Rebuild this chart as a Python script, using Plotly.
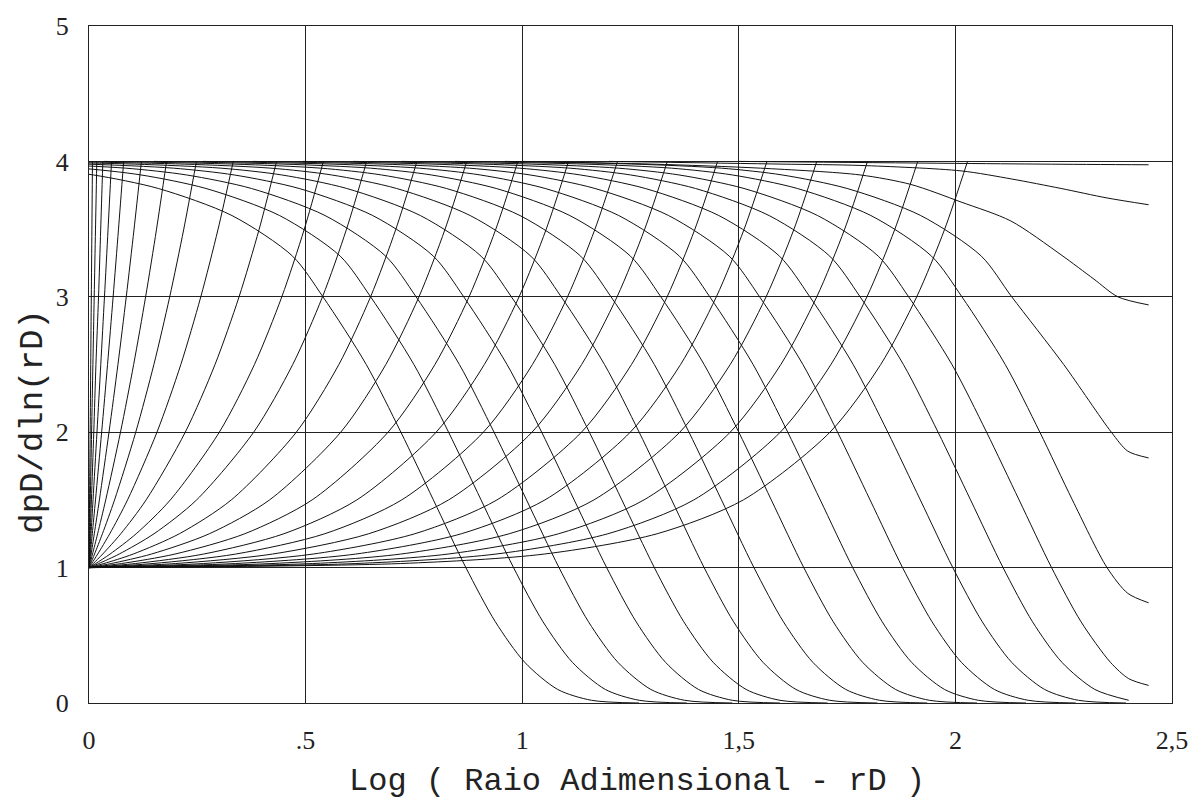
import plotly.graph_objects as go

# ---------------- data ----------------
X_TICKS = [0, 0.5, 1, 1.5, 2, 2.5]
X_TICK_TEXT = ["0", ".5", "1", "1,5", "2", "2,5"]
Y_TICKS = [0, 1, 2, 3, 4, 5]
Y_TICK_TEXT = ["0", "1", "2", "3", "4", "5"]

X_TITLE = "Log ( Raio Adimensional - rD )"
Y_TITLE = "dpD/dln(rD)"

# rising family: x position where each curve reaches each level
RISE_LEVELS = [1.0, 1.03, 1.1, 1.25, 1.5, 2.0, 2.5, 3.0, 3.5, 4.0]
RISE_X = [
    [0, 0.0001, 0.0003, 0.0007, 0.0013, 0.0027, 0.004, 0.0053, 0.0067, 0.008],
    [0, 0.0002, 0.0006, 0.0015, 0.003, 0.006, 0.009, 0.012, 0.015, 0.018],
    [0, 0.0003, 0.0011, 0.0028, 0.0056, 0.011, 0.016, 0.022, 0.027, 0.032],
    [0, 0.0006, 0.0019, 0.0047, 0.0093, 0.0184, 0.0272, 0.0357, 0.044, 0.052],
    [0, 0.0009, 0.0031, 0.0076, 0.015, 0.0292, 0.0428, 0.0557, 0.0681, 0.08],
    [0, 0.0015, 0.005, 0.0122, 0.024, 0.0462, 0.0668, 0.086, 0.104, 0.121],
    [0, 0.0025, 0.0081, 0.0199, 0.0386, 0.0727, 0.1031, 0.1307, 0.1559, 0.179],
    [0, 0.0039, 0.0128, 0.031, 0.059, 0.1079, 0.1498, 0.1863, 0.2188, 0.248],
    [0, 0.0062, 0.0201, 0.0479, 0.089, 0.1569, 0.212, 0.2581, 0.298, 0.333],
    [0, 0.0099, 0.0316, 0.0734, 0.1319, 0.2222, 0.2909, 0.3464, 0.3929, 0.433],
    [0, 0.0154, 0.0486, 0.1089, 0.1878, 0.3008, 0.3819, 0.4451, 0.497, 0.541],
    [0, 0.0227, 0.0696, 0.1501, 0.2484, 0.3801, 0.4703, 0.539, 0.5945, 0.641],
    [0, 0.0345, 0.102, 0.2086, 0.3285, 0.4785, 0.5768, 0.65, 0.7084, 0.757],
    [0, 0.0512, 0.144, 0.2778, 0.4169, 0.5811, 0.6852, 0.7617, 0.822, 0.872],
    [0, 0.075, 0.1985, 0.3596, 0.5151, 0.6903, 0.7986, 0.8773, 0.9391, 0.99],
    [0, 0.1071, 0.2644, 0.4499, 0.6183, 0.8013, 0.9126, 0.9928, 1.0555, 1.107],
    [0, 0.1478, 0.3386, 0.5442, 0.7219, 0.9104, 1.0236, 1.1047, 1.168, 1.22],
    [0, 0.2001, 0.4236, 0.6456, 0.8302, 1.0226, 1.1372, 1.219, 1.2828, 1.335],
    [0, 0.2644, 0.5174, 0.7521, 0.9418, 1.1368, 1.2523, 1.3346, 1.3987, 1.451],
    [0, 0.3382, 0.6157, 0.8595, 1.0526, 1.2495, 1.3656, 1.4482, 1.5124, 1.565],
    [0, 0.4224, 0.7196, 0.97, 1.1656, 1.3637, 1.4802, 1.563, 1.6274, 1.68],
    [0, 0.5164, 0.8288, 1.084, 1.2812, 1.4802, 1.597, 1.68, 1.7444, 1.797],
    [0, 0.616, 0.9394, 1.1978, 1.3962, 1.5957, 1.7127, 1.7958, 1.8603, 1.913],
    [0, 0.7196, 1.0508, 1.3114, 1.5105, 1.7104, 1.8276, 1.9107, 1.9753, 2.028],
]

# falling family: x position where each curve passes each level
FALL_LEVELS = [4.0, 3.98, 3.95, 3.9, 3.8, 3.6, 3.3, 3.0, 2.5, 2.0, 1.5, 1.0,
               0.6, 0.3, 0.1, 0.02, 0.0]
FALL_X = [
    [-0.63, -0.33, -0.13, 0.01, 0.16, 0.33, 0.47, 0.54, 0.64, 0.72, 0.795, 0.87, 0.938, 1.006, 1.082, 1.16, 1.27],
    [-0.52, -0.22, -0.02, 0.12, 0.27, 0.44, 0.58, 0.65, 0.75, 0.83, 0.905, 0.98, 1.048, 1.116, 1.192, 1.27, 1.38],
    [-0.415, -0.115, 0.085, 0.225, 0.375, 0.545, 0.685, 0.755, 0.855, 0.935, 1.01, 1.085, 1.153, 1.221, 1.297, 1.375, 1.485],
    [-0.305, -0.005, 0.195, 0.335, 0.485, 0.655, 0.795, 0.865, 0.965, 1.045, 1.12, 1.195, 1.263, 1.331, 1.407, 1.485, 1.595],
    [-0.195, 0.105, 0.305, 0.445, 0.595, 0.765, 0.905, 0.975, 1.075, 1.155, 1.23, 1.305, 1.373, 1.441, 1.517, 1.595, 1.705],
    [-0.08, 0.22, 0.42, 0.56, 0.71, 0.88, 1.02, 1.09, 1.19, 1.27, 1.345, 1.42, 1.488, 1.556, 1.632, 1.71, 1.82],
    [0.035, 0.335, 0.535, 0.675, 0.825, 0.995, 1.135, 1.205, 1.305, 1.385, 1.46, 1.535, 1.603, 1.671, 1.747, 1.825, 1.935],
    [0.15, 0.45, 0.65, 0.79, 0.94, 1.11, 1.25, 1.32, 1.42, 1.5, 1.575, 1.65, 1.718, 1.786, 1.862, 1.94, 2.05],
    [0.263, 0.563, 0.763, 0.903, 1.053, 1.223, 1.363, 1.433, 1.533, 1.613, 1.688, 1.763, 1.831, 1.899, 1.975, 2.053, 2.163],
    [0.378, 0.678, 0.878, 1.018, 1.168, 1.338, 1.478, 1.548, 1.648, 1.728, 1.803, 1.878, 1.946, 2.014, 2.09, 2.168, 2.278],
    [0.494, 0.794, 0.994, 1.134, 1.284, 1.454, 1.594, 1.664, 1.764, 1.844, 1.919, 1.994, 2.062, 2.13, 2.206, 2.284, 2.394],
    [0.61, 0.91, 1.11, 1.25, 1.4, 1.57, 1.71, 1.78, 1.88, 1.96, 2.035, 2.11, 2.178, 2.246, 2.322, 2.40],
    [0.722, 1.022, 1.222, 1.362, 1.512, 1.682, 1.822, 1.892, 1.992, 2.072, 2.147, 2.222, 2.29, 2.358],
    [0.845, 1.145, 1.345, 1.485, 1.635, 1.805, 1.945, 2.015, 2.115, 2.195, 2.27, 2.35],
    [0.96, 1.26, 1.46, 1.60, 1.75, 1.92, 2.06, 2.13, 2.25, 2.36],
    [1.0, 1.30, 1.55, 1.78],
    [1.2, 1.6],
    [1.5, 2.2],
]
# end pieces of the falling curves that bend near the right edge
FALL_TAIL_X = [
    [], [], [], [], [], [], [], [], [], [], [], [],
    [2.40, 2.446],
    [2.398, 2.446],
    [2.398, 2.446],
    [1.897, 2.013, 2.128, 2.244, 2.32, 2.375, 2.446],
    [1.782, 2.013, 2.13, 2.244, 2.35, 2.446],
    [2.446],
]
FALL_TAIL_Y = [
    [], [], [], [], [], [], [], [], [], [], [], [],
    [0.18, 0.13],
    [0.81, 0.74],
    [1.86, 1.81],
    [3.83, 3.70, 3.56, 3.31, 3.13, 3.0, 2.94],
    [3.97, 3.93, 3.87, 3.80, 3.73, 3.68],
    [3.975],
]

# ---------------- figure ----------------
LINE = dict(color="#111111", width=1, shape="spline", smoothing=0.8)
fig = go.Figure()

for xs in RISE_X:
    fig.add_trace(go.Scatter(x=xs, y=RISE_LEVELS[:len(xs)], mode="lines",
                             line=LINE, hoverinfo="skip", showlegend=False))

for xs, tx, ty in zip(FALL_X, FALL_TAIL_X, FALL_TAIL_Y):
    fig.add_trace(go.Scatter(x=list(xs) + list(tx),
                             y=FALL_LEVELS[:len(xs)] + list(ty),
                             mode="lines", line=LINE,
                             hoverinfo="skip", showlegend=False))

TICK_FONT = dict(family="Liberation Serif", size=26, color="#222222")

fig.update_xaxes(range=[0, 2.5], tickvals=X_TICKS, ticktext=X_TICK_TEXT,
                 showgrid=True, gridcolor="#222222", gridwidth=1,
                 showline=True, linecolor="#222222", linewidth=1, mirror=True,
                 zeroline=False, ticks="", tickfont=TICK_FONT,
                 ticklabelstandoff=14)
fig.update_yaxes(range=[0, 5], tickvals=Y_TICKS, ticktext=Y_TICK_TEXT,
                 showgrid=True, gridcolor="#222222", gridwidth=1,
                 showline=True, linecolor="#222222", linewidth=1, mirror=True,
                 zeroline=False, ticks="", tickfont=TICK_FONT,
                 ticklabelstandoff=14)

fig.add_annotation(text=X_TITLE, xref="paper", yref="paper", x=0.506, y=-0.116,
                   xanchor="center", yanchor="middle", showarrow=False,
                   font=dict(family="Liberation Mono", size=32, color="#222222"))
fig.add_annotation(text=Y_TITLE, xref="paper", yref="paper", x=-0.052, y=0.415,
                   xanchor="center", yanchor="middle", showarrow=False,
                   textangle=-90,
                   font=dict(family="Liberation Mono", size=34, color="#222222"))

fig.update_layout(width=1203, height=809,
                  margin=dict(l=89, r=31, t=22, b=106),
                  paper_bgcolor="white", plot_bgcolor="white",
                  showlegend=False)

fig.write_html("out.html")
